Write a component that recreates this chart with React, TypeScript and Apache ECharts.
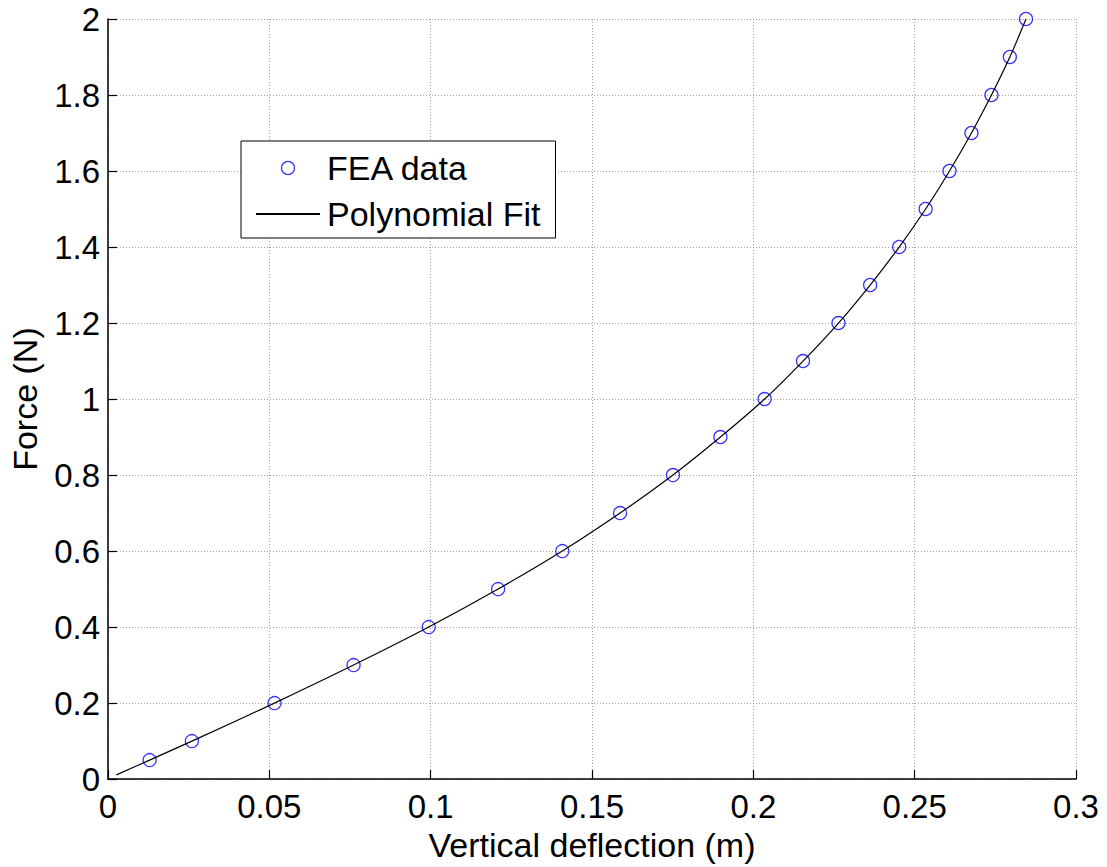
import React, { useEffect, useRef } from "react";
import * as echarts from "echarts";

// FEA data points
const feaX = [0.0129, 0.026, 0.0516, 0.0761, 0.0994, 0.1209, 0.1408, 0.1587, 0.1751, 0.1898, 0.2035, 0.2154, 0.2264, 0.2362, 0.2452, 0.2534, 0.2608, 0.2676, 0.2738, 0.2795, 0.2845];
const feaY = [0.05, 0.1, 0.2, 0.3, 0.4, 0.5, 0.6, 0.7, 0.8, 0.9, 1.0, 1.1, 1.2, 1.3, 1.4, 1.5, 1.6, 1.7, 1.8, 1.9, 2.0];

// Polynomial fit curve
const fitX = [0.0026, 0.0129, 0.026, 0.0516, 0.0761, 0.0994, 0.1209, 0.1408, 0.1587, 0.1751, 0.1898, 0.2035, 0.2154, 0.2264, 0.2362, 0.2452, 0.2534, 0.2608, 0.2676, 0.2738, 0.2795, 0.2845];
const fitY = [0.011, 0.05, 0.1, 0.2, 0.3, 0.4, 0.5, 0.6, 0.7, 0.8, 0.9, 1.0, 1.1, 1.2, 1.3, 1.4, 1.5, 1.6, 1.7, 1.8, 1.9, 2.0];

const seriesNames = ["FEA data", "Polynomial Fit"];
const xTitle = "Vertical deflection (m)";
const yTitle = "Force (N)";

const FONT = "'Liberation Sans', Arial, Helvetica, sans-serif";

export default function App() {
  const ref = useRef<HTMLDivElement>(null);
  useEffect(() => {
    if (!ref.current) return;
    const chart = echarts.init(ref.current, undefined, { renderer: "svg" });
    const gridLine = { show: true, lineStyle: { color: "#a0a0a0", type: [1, 2] as any, width: 1 } };
    chart.setOption({
      animation: false,
      backgroundColor: "#ffffff",
      textStyle: { fontFamily: FONT, color: "#000" },
      grid: { left: 108, right: 31, top: 19, bottom: 85, containLabel: false },
      legend: {
        data: [
          { name: seriesNames[0] },
          { name: seriesNames[1], itemStyle: { color: "rgba(0,0,0,0)", borderColor: "rgba(0,0,0,0)", borderWidth: 0 } },
        ],
        orient: "vertical",
        left: 241,
        top: 141,
        padding: [10, 15, 7, 14],
        borderColor: "#000",
        borderWidth: 1,
        backgroundColor: "#fff",
        itemWidth: 64,
        itemHeight: 13,
        itemGap: 12,
        itemStyle: { borderWidth: 1.3 },
        textStyle: { fontFamily: FONT, fontSize: 34, color: "#000", lineHeight: 34, padding: [0, 0, 0, 2] },
        selectedMode: false,
      },
      xAxis: {
        type: "value",
        min: 0,
        max: 0.3,
        interval: 0.05,
        name: xTitle,
        nameLocation: "middle",
        nameGap: 46,
        nameTextStyle: { fontFamily: FONT, fontSize: 34, color: "#000" },
        axisLine: { show: true, onZero: false, lineStyle: { color: "#000", width: 1.5 } },
        axisTick: { show: true, inside: true, length: 9, lineStyle: { color: "#000", width: 1.2 } },
        axisLabel: { fontFamily: FONT, fontSize: 33, color: "#000", margin: 11 },
        splitLine: gridLine,
      },
      yAxis: {
        type: "value",
        min: 0,
        max: 2,
        interval: 0.2,
        name: yTitle,
        nameLocation: "middle",
        nameGap: 66,
        nameRotate: 90,
        nameTextStyle: { fontFamily: FONT, fontSize: 34, color: "#000" },
        axisLine: { show: true, onZero: false, lineStyle: { color: "#000", width: 1.5 } },
        axisTick: { show: true, inside: true, length: 9, lineStyle: { color: "#000", width: 1.2 } },
        axisLabel: { fontFamily: FONT, fontSize: 33, color: "#000", margin: 8 },
        splitLine: gridLine,
      },
      series: [
        {
          name: seriesNames[0],
          type: "scatter",
          data: feaX.map((x, i) => [x, feaY[i]]),
          symbol: "circle",
          symbolSize: 13,
          itemStyle: { color: "rgba(0,0,0,0)", borderColor: "#0000ff", borderWidth: 1.3 },
          z: 2,
        },
        {
          name: seriesNames[1],
          type: "line",
          data: fitX.map((x, i) => [x, fitY[i]]),
          symbol: "none",
          showSymbol: false,
          smooth: 0.3,
          lineStyle: { color: "#000", width: 1.2 },
          itemStyle: { color: "#000" },
          z: 3,
        },
      ],
    });
    return () => chart.dispose();
  }, []);
  return (
    <div
      ref={ref}
      style={{ position: "fixed", left: 0, top: 0, width: 1107, height: 867, background: "#fff" }}
    />
  );
}
